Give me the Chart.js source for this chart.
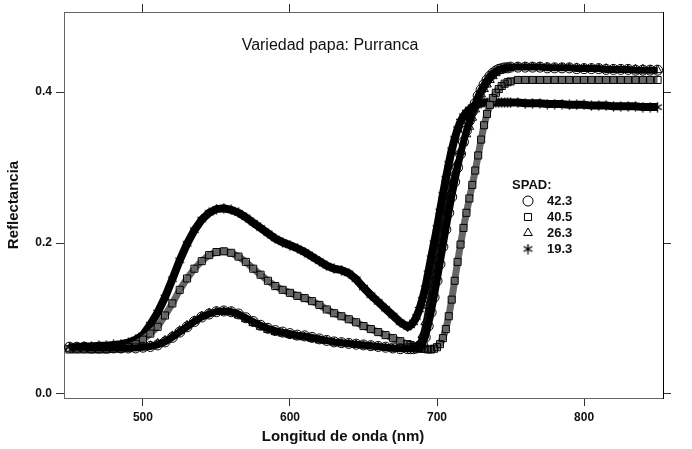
<!DOCTYPE html>
<html>
<head>
<meta charset="utf-8">
<script src="https://cdn.jsdelivr.net/npm/chart.js@4.4.1/dist/chart.umd.min.js"></script>
<style>
  html, body { margin: 0; padding: 0; background: #fff; }
  #wrap { width: 692px; height: 449px; }
</style>
</head>
<body>
<div id="wrap"><canvas id="chart"></canvas></div>
<script>
// ─── data (reflectance vs wavelength, nm) ────────────────────────────────────

const WAVELENGTHS = [
  450, 455, 460, 465, 470, 475, 480, 485, 490, 495,
  500, 505, 510, 515, 520, 525, 530, 535, 540, 545,
  550, 555, 560, 565, 570, 575, 580, 585, 590, 595,
  600, 605, 610, 615, 620, 625, 630, 635, 640, 645,
  650, 655, 660, 665, 670, 675,
  680, 682, 684, 686, 688, 690, 692, 694, 696, 698,
  700, 702, 704, 706, 708, 710, 712, 714, 716, 718,
  720, 722, 724, 726, 728, 730, 732, 734, 736, 738,
  740, 742, 744, 746, 748, 750,
  755, 760, 765, 770, 775, 780, 785, 790, 795, 800,
  805, 810, 815, 820, 825, 830, 835, 840, 845, 850,
];

const SPAD_42_3 = [
  .062, .062, .062, .061, .061, .061, .061, .061, .061, .061,
  .062, .063, .065, .069, .075, .082, .089, .096, .102, .106,
  .109, .110, .109, .106, .101, .096, .091, .087, .084, .082,
  .080, .078, .077, .075, .073, .071, .069, .068, .067, .066,
  .065, .064, .063, .062, .061, .060,
  .060, .060, .060, .061, .062, .066, .075, .090, .108, .128,
  .150, .172, .195, .218, .240, .261, .281, .300, .318, .334,
  .349, .362, .374, .385, .395, .403, .410, .416, .421, .425,
  .428, .430, .431, .432, .432, .433,
  .433, .433, .433, .433, .432, .432, .432, .432, .431, .431,
  .431, .431, .430, .430, .430, .430, .429, .429, .429, .429,
];

const SPAD_40_5 = [
  .059, .059, .059, .059, .059, .059, .060, .060, .062, .066,
  .072, .080, .089, .104, .120, .138, .153, .166, .176, .184,
  .188, .189, .187, .182, .175, .166, .158, .150, .143, .138,
  .134, .130, .127, .123, .118, .112, .107, .103, .099, .095,
  .090, .086, .082, .078, .074, .070,
  .066, .065, .063, .062, .061, .060, .060, .059, .059, .060,
  .062, .066, .074, .086, .103, .125, .150, .175, .198, .220,
  .240, .259, .277, .296, .316, .337, .356, .371, .383, .392,
  .399, .404, .408, .411, .413, .414,
  .416, .416, .416, .416, .416, .416, .416, .416, .416, .416,
  .416, .416, .416, .416, .416, .416, .416, .416, .416, .416,
];

const SPAD_26_3 = [
  .060, .060, .060, .060, .060, .060, .060, .060, .060, .061,
  .062, .064, .067, .071, .077, .084, .091, .097, .103, .107,
  .109, .109, .108, .104, .099, .094, .089, .085, .082, .080,
  .078, .076, .075, .073, .071, .070, .068, .067, .066, .065,
  .064, .063, .062, .061, .060, .060,
  .060, .060, .061, .063, .067, .078, .095, .117, .138, .158,
  .178, .200, .222, .244, .262, .278, .293, .307, .321, .333,
  .344, .354, .366, .377, .388, .397, .404, .410, .416, .421,
  .425, .428, .430, .431, .432, .432,
  .433, .433, .433, .433, .433, .432, .432, .432, .432, .431,
  .431, .431, .431, .430, .430, .430, .430, .430, .429, .429,
];

const SPAD_19_3 = [
  .062, .062, .063, .063, .064, .064, .065, .066, .068, .072,
  .078, .092, .108, .128, .152, .177, .199, .217, .231, .240,
  .245, .246, .244, .240, .234, .227, .220, .213, .206, .201,
  .197, .193, .188, .182, .176, .170, .166, .164, .160, .152,
  .141, .131, .122, .113, .104, .095,
  .089, .091, .095, .102, .112, .125, .140, .160, .180, .200,
  .220, .242, .264, .285, .305, .323, .338, .351, .361, .368,
  .373, .377, .380, .382, .384, .385, .386, .386, .386, .386,
  .386, .386, .386, .386, .386, .386,
  .386, .385, .385, .385, .384, .384, .384, .383, .383, .383,
  .382, .382, .382, .381, .381, .381, .381, .380, .380, .380,
];

const SPAD_LABELS = ['42.3', '40.5', '26.3', '19.3'];
const X_TICKS = [500, 600, 700, 800];
const Y_TICKS = [0, 0.2, 0.4];

// ─── styling ────────────────────────────────────────────────────────────────

const FONT = '"Liberation Sans", Arial, sans-serif';
const AXIS = '#666';
const INK = '#111';

/** Six-spoke asterisk marker, like the one in the original plot. */
function asteriskMarker(size) {
  const cv = document.createElement('canvas');
  cv.width = size; cv.height = size;
  const g = cv.getContext('2d');
  const c = size / 2, r = size / 2 - 0.5;
  g.strokeStyle = '#000';
  g.lineWidth = 1.4;
  g.beginPath();
  [90, 30, 150].forEach(a => {
    const t = a * Math.PI / 180;
    g.moveTo(c - r * Math.cos(t), c - r * Math.sin(t));
    g.lineTo(c + r * Math.cos(t), c + r * Math.sin(t));
  });
  g.stroke();
  return cv;
}

const STAR = asteriskMarker(11);
const MARKERS = ['circle', 'rect', 'triangle', STAR];
const SERIES = [SPAD_42_3, SPAD_40_5, SPAD_26_3, SPAD_19_3];
// the densely packed markers read as a solid band; a thick line under them gives that
const BAND_COLOR = ['#000', '#666', '#111', '#000'];
const BAND_WIDTH = [7, 7, 5, 8];

function markerDS(i) {
  return {
    label: SPAD_LABELS[i],
    data: SERIES[i].map((v, k) => ({ x: WAVELENGTHS[k], y: v })),
    showLine: true,
    borderColor: BAND_COLOR[i],
    borderWidth: BAND_WIDTH[i],
    tension: 0,
    pointStyle: MARKERS[i],
    pointRadius: 5,
    pointBorderWidth: 1,
    pointBorderColor: '#000',
    pointBackgroundColor: 'rgba(0,0,0,0)',
  };
}

// ─── text overlays: title, axis titles, SPAD key ───────────────────────────

const overlay = {
  id: 'overlay',
  afterDraw(chart) {
    const ctx = chart.ctx;
    ctx.save();
    ctx.fillStyle = INK;
    ctx.textBaseline = 'middle';

    ctx.font = `16px ${FONT}`;
    ctx.textAlign = 'center';
    ctx.fillText('Variedad papa: Purranca', 330, 46);

    ctx.font = `bold 15px ${FONT}`;
    ctx.fillText('Longitud de onda (nm)', 343, 437);
    ctx.save();
    ctx.translate(14, 205);
    ctx.rotate(-Math.PI / 2);
    ctx.fillText('Reflectancia', 0, 0);
    ctx.restore();

    ctx.textAlign = 'left';
    ctx.font = `bold 13px ${FONT}`;
    ctx.fillText('SPAD:', 512, 185);
    const rows = [201, 217, 233, 249];
    SPAD_LABELS.forEach((lab, i) => {
      ctx.fillStyle = INK;
      ctx.fillText(lab, 547, rows[i]);
      ctx.fillStyle = 'rgba(0,0,0,0)';
      ctx.strokeStyle = '#000';
      Chart.helpers.drawPoint(ctx, {
        pointStyle: MARKERS[i], radius: 5, borderWidth: 1, rotation: 0,
      }, 528, rows[i]);
    });
    ctx.restore();
  },
};

// ─── chart ──────────────────────────────────────────────────────────────────

const tickFont = { family: FONT, size: 12, weight: 'bold' };
const gridOpts = { drawOnChartArea: false, drawTicks: true, tickLength: 8, color: '#333', lineWidth: 1 };

new Chart(document.getElementById('chart'), {
  type: 'scatter',
  data: { datasets: SERIES.map((s, i) => markerDS(i)) },
  options: {
    responsive: true,
    maintainAspectRatio: false,
    animation: false,
    layout: { padding: 0 },
    plugins: { legend: { display: false }, tooltip: { enabled: false } },
    scales: {
      x: {
        type: 'linear', position: 'bottom', min: 446.3, max: 853.7,
        afterBuildTicks: s => { s.ticks = X_TICKS.map(v => ({ value: v })); },
        afterFit: s => { s.height = 51; },
        ticks: { font: tickFont, color: INK, padding: 4, callback: v => String(v) },
        grid: gridOpts,
        border: { color: AXIS, width: 1 },
      },
      x2: {
        type: 'linear', position: 'top', min: 446.3, max: 853.7,
        afterBuildTicks: s => { s.ticks = X_TICKS.map(v => ({ value: v })); },
        afterFit: s => { s.height = 12; },
        ticks: { display: false },
        grid: gridOpts,
        border: { color: AXIS, width: 1 },
      },
      y: {
        type: 'linear', position: 'left', min: -0.0053, max: 0.506,
        afterBuildTicks: s => { s.ticks = Y_TICKS.map(v => ({ value: v })); },
        afterFit: s => { s.width = 64; },
        ticks: { font: tickFont, color: INK, padding: 4, callback: v => v.toFixed(1) },
        grid: gridOpts,
        border: { color: AXIS, width: 1 },
      },
      y2: {
        type: 'linear', position: 'right', min: -0.0053, max: 0.506,
        afterBuildTicks: s => { s.ticks = Y_TICKS.map(v => ({ value: v })); },
        afterFit: s => { s.width = 29; },
        ticks: { display: false },
        grid: gridOpts,
        border: { color: '#000', width: 1 },
      },
    },
  },
  plugins: [overlay],
});
</script>
</body>
</html>
